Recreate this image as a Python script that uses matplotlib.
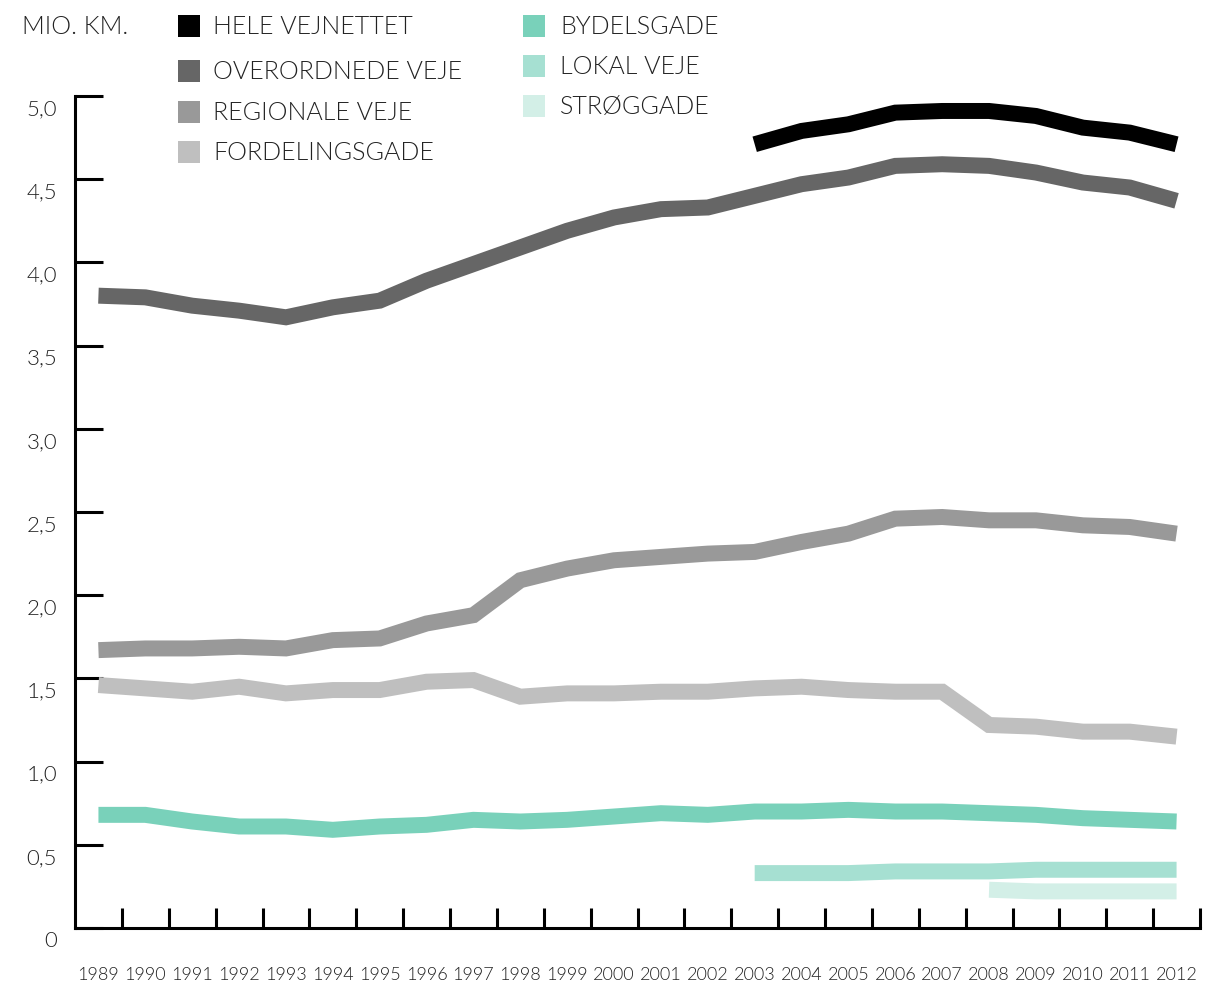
import numpy as np
import matplotlib
matplotlib.use("Agg")
import matplotlib.pyplot as plt
from matplotlib.transforms import offset_copy
from matplotlib.patches import Rectangle

# ---------------- data ----------------
years = list(range(1989, 2013))
year_labels = [str(y) for y in years]
y_ticks = [0, 0.5, 1.0, 1.5, 2.0, 2.5, 3.0, 3.5, 4.0, 4.5, 5.0]
y_tick_labels = ["0", "0,5", "1,0", "1,5", "2,0", "2,5", "3,0", "3,5", "4,0", "4,5", "5,0"]

N = None
hele_vejnettet = [N]*14 + [4.71, 4.79, 4.83, 4.90, 4.91, 4.91, 4.88, 4.81, 4.78, 4.71]
overordnede_veje = [3.80, 3.79, 3.74, 3.71, 3.67, 3.73, 3.77, 3.89, 3.99, 4.09, 4.19, 4.27,
                    4.32, 4.33, 4.40, 4.47, 4.51, 4.58, 4.59, 4.58, 4.54, 4.48, 4.45, 4.37]
regionale_veje = [1.67, 1.68, 1.68, 1.69, 1.68, 1.73, 1.74, 1.83, 1.88, 2.09, 2.16, 2.21,
                  2.23, 2.25, 2.26, 2.32, 2.37, 2.46, 2.47, 2.45, 2.45, 2.42, 2.41, 2.37]
fordelingsgade = [1.46, 1.44, 1.42, 1.45, 1.41, 1.43, 1.43, 1.48, 1.49, 1.39, 1.41, 1.41,
                  1.42, 1.42, 1.44, 1.45, 1.43, 1.42, 1.42, 1.22, 1.21, 1.18, 1.18, 1.15]
bydelsgade = [0.68, 0.68, 0.64, 0.61, 0.61, 0.59, 0.61, 0.62, 0.65, 0.64, 0.65, 0.67,
              0.69, 0.68, 0.70, 0.70, 0.71, 0.70, 0.70, 0.69, 0.68, 0.66, 0.65, 0.64]
lokal_veje = [N]*14 + [0.33, 0.33, 0.33, 0.34, 0.34, 0.34, 0.35, 0.35, 0.35, 0.35]
stroeggade = [N]*19 + [0.23, 0.22, 0.22, 0.22, 0.22]

series_names = ["HELE VEJNETTET", "OVERORDNEDE VEJE", "REGIONALE VEJE", "FORDELINGSGADE",
                "BYDELSGADE", "LOKAL VEJE", "STRØGGADE"]
series_values = [hele_vejnettet, overordnede_veje, regionale_veje, fordelingsgade,
                 bydelsgade, lokal_veje, stroeggade]
series_colors = ["#000000", "#666666", "#999999", "#bfbfbf", "#79d1ba", "#a6e0d2", "#d3efe7"]

# ---------------- style ----------------
FONT = "Lato"
WEIGHT = 300
TXT = "#222222"
W, H, DPI = 12.16, 9.87, 100
fig = plt.figure(figsize=(W, H), dpi=DPI)
fig.patch.set_facecolor("white")

left, right, bottom, top = 75, 1200, 929, 97
ax = fig.add_axes([left / 1216, 1 - bottom / 987, (right - left) / 1216, (bottom - top) / 987])

for vals, col in zip(series_values, series_colors):
    arr = np.array([np.nan if v is None else v for v in vals], dtype=float)
    ax.plot(years, arr, color=col, lw=11.5, solid_capstyle="butt", solid_joinstyle="miter")

ax.set_xlim(years[0] - 0.5, years[-1] + 0.5)
ax.set_ylim(0, 5.0)

for s in ["top", "right"]:
    ax.spines[s].set_visible(False)
for s in ["left", "bottom"]:
    ax.spines[s].set_linewidth(2.2)
    ax.spines[s].set_color("black")

ax.set_xticks([y + 0.5 for y in years])
ax.set_xticklabels([])
ax.tick_params(axis="x", direction="in", length=14.4, width=2.2, color="black")
ax.set_yticks(y_ticks)
ax.set_yticklabels([])
ax.tick_params(axis="y", direction="in", length=20, width=2.2, color="black")

# y labels
for v, lab in zip(y_ticks, y_tick_labels):
    tr = offset_copy(ax.get_yaxis_transform(), fig=fig, x=-18, y=-12, units="dots")
    ax.text(0, v, lab, transform=tr, ha="right", va="center", fontsize=16,
            family=FONT, fontweight=WEIGHT, color=TXT, clip_on=False)

# x labels
for yv, lab in zip(years, year_labels):
    tr = offset_copy(ax.get_xaxis_transform(), fig=fig, x=0, y=-46, units="dots")
    ax.text(yv, 0, lab, transform=tr, ha="center", va="center", fontsize=13,
            family=FONT, fontweight=WEIGHT, color=TXT, clip_on=False)

# unit label
fig.text(22 / 1216, 1 - 27 / 987, "MIO. KM.", ha="left", va="center", fontsize=18,
         family=FONT, fontweight=WEIGHT, color=TXT)

# legend (manual)
col_x = [178, 523]
text_x = [213, 560]
rows = [[27, 72, 113, 153], [27, 67, 107]]
idx = 0
sq = 22
for c in range(2):
    for ry in rows[c]:
        fig.patches.append(Rectangle(((col_x[c]) / 1216, 1 - (ry + sq / 2) / 987),
                                     sq / 1216, sq / 987, transform=fig.transFigure,
                                     facecolor=series_colors[idx], edgecolor="none"))
        fig.text(text_x[c] / 1216, 1 - ry / 987, series_names[idx], ha="left", va="center",
                 fontsize=18, family=FONT, fontweight=WEIGHT, color=TXT)
        idx += 1

fig.savefig("out.png", dpi=DPI, facecolor="white")
